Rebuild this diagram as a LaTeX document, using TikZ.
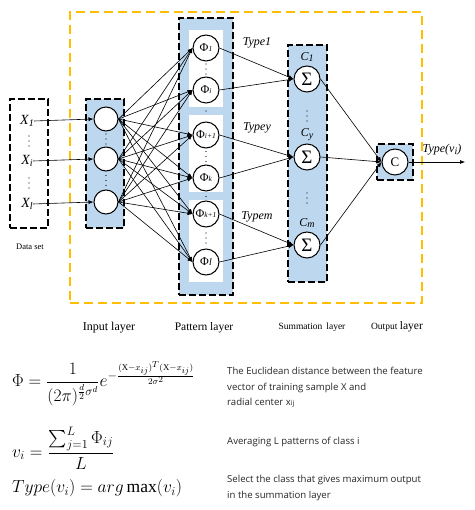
\RequirePackage{fix-cm}
\documentclass[tikz,border=0pt]{standalone}
\usepackage{amsmath}
\usepackage{fontspec}
\setmainfont{Liberation Serif}
\newfontfamily\osans{Open Sans}
\usetikzlibrary{arrows.meta}
\definecolor{lblue}{RGB}{189,215,238}
\definecolor{gold}{RGB}{255,190,0}
\newcommand{\fsz}[1]{\fontsize{#1}{#1}\selectfont}
\newcommand{\psub}[1]{{\fsz{7.5}\itshape #1}}
\newcommand{\xsub}[1]{\raisebox{-0.35ex}{\fsz{10}\itshape #1}}
\newcommand{\vdotsat}[2]{\fill (#1,#2-5) circle (0.6pt) (#1,#2) circle (0.6pt) (#1,#2+5) circle (0.6pt);}
\tikzset{
  neuron/.style={circle,draw,line width=1pt,fill=white,minimum size=24pt,inner sep=0pt},
  pneuron/.style={neuron,minimum size=26pt,font=\fsz{12}},
  sneuron/.style={neuron,minimum size=26pt,font=\fsz{19}},
  layerbox/.style={draw,line width=1.5pt,fill=lblue,dash pattern=on 7pt off 3pt,inner sep=0pt},
  databox/.style={layerbox,fill=white},
  groupbox/.style={fill=white,inner sep=0pt,minimum width=34pt},
  conn/.style={line width=0.6pt,-{Latex[length=5pt,width=4pt]}},
  typelbl/.style={font=\fsz{12}\itshape},
  layerlbl/.style={font=\fsz{12}},
  formula/.style={anchor=west,inner sep=0pt,font=\fsz{17.5}},
  desc/.style={anchor=north west,align=left,font=\osans\fontsize{9.6}{15.6}\selectfont,text=black!85,inner sep=0pt}
}
\begin{document}
\begin{tikzpicture}[x=1pt,y=-1pt]
\useasboundingbox (0,0) rectangle (474,510);
% outer yellow frame
\node[draw=gold,line width=1.6pt,dash pattern=on 9pt off 5pt,minimum width=352pt,minimum height=291pt,inner sep=0pt] (frame) at (246,157.5) {};
% boxes
\node[databox,minimum width=38pt,minimum height=129pt] (dbox) at (29,163.5) {};
\node[layerbox,minimum width=38pt,minimum height=129pt] (ibox) at (105,163.5) {};
\node[layerbox,minimum width=54pt,minimum height=277pt] (pbox) at (206,156.5) {};
\node[groupbox,minimum height=77pt] (g1) at (206,68.5) {};
\node[groupbox,minimum height=77pt] (g2) at (206,153.5) {};
\node[groupbox,minimum height=82pt] (g3) at (206,241) {};
\node[layerbox,minimum width=39pt,minimum height=237pt] (sbox) at (307.5,163.5) {};
\node[layerbox,minimum width=36pt,minimum height=36pt] (obox) at (395,162) {};
% data set
\node[font=\fsz{14}\itshape,inner sep=0pt] (x1) at (27,121) {X\xsub{1}};
\node[font=\fsz{14}\itshape,inner sep=0pt] (xi) at (27,161) {X\xsub{i}};
\node[font=\fsz{14}\itshape,inner sep=0pt] (xl) at (27,204) {X\xsub{l}};
\vdotsat{29}{141}
\vdotsat{29}{183}
\node[font=\fsz{8.5}] (dlbl) at (30,247) {Data set};
% input neurons
\node[neuron] (i1) at (106,119) {};
\node[neuron] (i2) at (106,159) {};
\node[neuron] (i3) at (106,202) {};
\vdotsat{106}{139}
\vdotsat{106}{180.5}
% pattern neurons
\node[pneuron] (p1) at (206,48) {Φ\psub{1}};
\node[pneuron] (p2) at (206,90) {Φ\psub{i}};
\node[pneuron] (p3) at (206,135) {Φ\psub{i+1}};
\node[pneuron] (p4) at (206,178) {Φ\psub{k}};
\node[pneuron] (p5) at (206,214) {Φ\psub{k+1}};
\node[pneuron] (p6) at (206,262) {Φ{\fsz{10}\itshape l}};
\vdotsat{206}{69}
\vdotsat{206}{156.5}
\vdotsat{206}{238}
\fill (206,111) circle (0.6pt) (206,196.5) circle (0.6pt);
\node[typelbl] (t1) at (257,43) {Type1};
\node[typelbl] (t2) at (257,128) {Typey};
\node[typelbl] (t3) at (257,217) {Typem};
% summation neurons
\node[sneuron] (s1) at (307,79) {Σ};
\node[sneuron] (s2) at (307,157) {Σ};
\node[sneuron] (s3) at (307,245) {Σ};
\node[typelbl,inner sep=0pt] (c1) at (307,57) {C\xsub{1}};
\node[typelbl,inner sep=0pt] (c2) at (307,135) {C\xsub{y}};
\node[typelbl,inner sep=0pt] (c3) at (307,223) {C\xsub{m}};
\vdotsat{307}{116}
\vdotsat{307}{198}
% output neuron
\node[neuron,minimum size=26pt,font=\fsz{13}] (o) at (395,162) {C};
\coordinate (oend) at (465,162);
\node[typelbl,anchor=south] (tv) at (442,159) {Type(v\xsub{i})};
% connectors: data -> input
\draw[conn] (x1.east) -- (i1.west);
\draw[conn] (xi.east) -- (i2.west);
\draw[conn] (xl.east) -- (i3.west);
% input -> pattern
\foreach \a in {i1,i2,i3}{
  \foreach \b in {p1,p2,p3,p4,p5,p6}{
    \draw[conn] (\a.east) -- (\b.west);
  }
}
% pattern -> summation
\draw[conn] (p1.east) -- (s1.west);
\draw[conn] (p2.east) -- (s1.west);
\draw[conn] (p3.east) -- (s2.west);
\draw[conn] (p4.east) -- (s2.west);
\draw[conn] (p5.east) -- (s3.west);
\draw[conn] (p6.east) -- (s3.west);
% summation -> output
\draw[conn] (s1.east) -- (o.west);
\draw[conn] (s2.east) -- (o.west);
\draw[conn] (s3.east) -- (o.west);
\draw[conn] (o.east) -- (oend);
% layer labels
\node[layerlbl] (l1) at (109,328) {Input layer};
\node[font=\fsz{11.5}] (l2) at (204,328) {Pattern layer};
\node[font=\fsz{9.5}] (l3) at (312,327) {Summation\, layer};
\node[font=\fsz{9.5}] (l4) at (397,327) {Output {\fsz{11.5}layer}};
% formulas
\node[formula] (f1) at (12,384) {$\Phi=\dfrac{1}{(2\pi)^{\frac{d}{2}\sigma^d}}e^{-\frac{(\mathrm{X}-x_{ij})^T(\mathrm{X}-x_{ij})}{2\sigma^2}}$};
\node[formula] (f2) at (12,448) {$v_i=\dfrac{\sum_{j=1}^{L}\Phi_{ij}}{L}$};
\node[formula] (f3) at (12,488) {$Type(v_i)=arg\max(v_i)$};
\node[desc] (d1) at (227,367) {The Euclidean distance between the feature\\vector of training sample X and\\radial center x{\fsz{7}ij}};
\node[desc] (d2) at (227,437) {Averaging L patterns of class i};
\node[desc] (d3) at (227,475) {Select the class that gives maximum output\\in the summation layer};
\end{tikzpicture}
\end{document}
